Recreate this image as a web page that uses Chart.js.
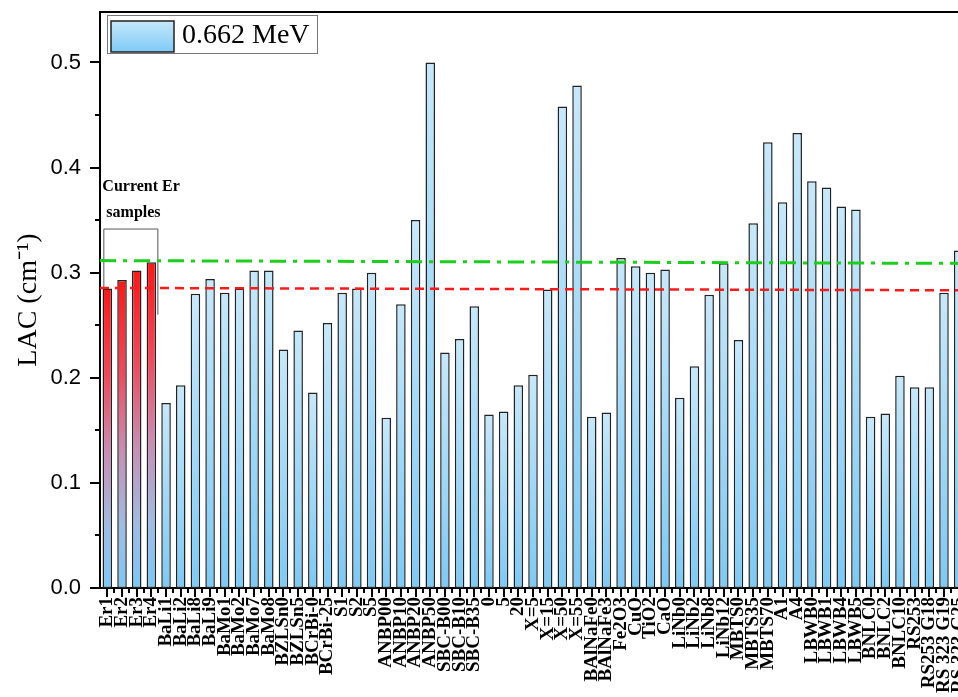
<!DOCTYPE html>
<html>
<head>
<meta charset="utf-8">
<title>LAC at 0.662 MeV</title>
<script src="https://cdn.jsdelivr.net/npm/chart.js@4.4.0/dist/chart.umd.min.js"></script>
<style>
  html, body { margin: 0; padding: 0; background: #fff; overflow: hidden; }
  #wrap { width: 966px; height: 697px; }
</style>
</head>
<body>
<div id="wrap"><canvas id="lacChart" width="966" height="697"></canvas></div>
<script>
// sample names, in plotting order
const labels = [
  'Er1', 'Er2', 'Er3', 'Er4',
  'BaLi1', 'BaLi2', 'BaLi8', 'BaLi9',
  'BaMo1', 'BaMo2', 'BaMo7', 'BaMo8',
  'BZLSn0', 'BZLSn5', 'BCrBi-0', 'BCrBi-25',
  'S1', 'S2', 'S5',
  'ANBP00', 'ANBP10', 'ANBP20', 'ANBP50',
  'SBC-B00', 'SBC-B10', 'SBC-B35',
  '0', '5', '20',
  'X=5', 'X=15', 'X=50', 'X=55',
  'BAlNaFe0', 'BAlNaFe3',
  'Fe2O3', 'CuO', 'TiO2', 'CaO',
  'LiNb0', 'LiNb2', 'LiNb8', 'LiNb12',
  'MBTS0', 'MBTS35', 'MBTS70',
  'A1', 'A4',
  'LBWB0', 'LBWB1', 'LBWB4', 'LBWB5',
  'BNLC0', 'BNLC2', 'BNLC10',
  'RS253', 'RS253 G18', 'RS 323 G19', 'RS 323 G25'
];

// linear attenuation coefficient at 0.662 MeV (cm^-1)
const lac = [
  0.285, 0.293, 0.302, 0.310,
  0.176, 0.193, 0.280, 0.294,
  0.281, 0.285, 0.302, 0.302,
  0.227, 0.245, 0.186, 0.252,
  0.281, 0.285, 0.300,
  0.162, 0.270, 0.350, 0.500,
  0.224, 0.237, 0.268,
  0.165, 0.168, 0.193,
  0.203, 0.284, 0.458, 0.478,
  0.163, 0.167,
  0.314, 0.306, 0.300, 0.303,
  0.181, 0.211, 0.279, 0.309,
  0.236, 0.347, 0.424,
  0.367, 0.433,
  0.387, 0.381, 0.363, 0.360,
  0.163, 0.166, 0.202,
  0.191, 0.191, 0.281, 0.321
];

// first bars are the current Er samples
const erCount = 4;

// reference levels, value at left edge and at right edge
const greenLine = [0.3115, 0.3088];
const redLine = [0.2855, 0.2832];

const seriesLabel = '0.662 MeV';

function barFill(ctx) {
  const chart = ctx.chart;
  const i = ctx.dataIndex;
  const isEr = i < erCount;
  if (!chart.chartArea || ctx.type !== 'data') return isEr ? '#e8405a' : '#a6dbf8';
  const y = chart.scales.y;
  const top = y.getPixelForValue(lac[i]);
  const base = y.getPixelForValue(0);
  const g = chart.ctx.createLinearGradient(0, top, 0, base);
  if (isEr) {
    g.addColorStop(0, '#ff1616');
    g.addColorStop(0.3, '#ef4a5c');
    g.addColorStop(0.55, '#c98db4');
    g.addColorStop(0.8, '#9dbde6');
    g.addColorStop(1, '#7cc8f6');
  } else {
    g.addColorStop(0, '#c6e8fb');
    g.addColorStop(1, '#7ccaf6');
  }
  return g;
}

// keep the plot box fixed: no extra room for overhanging labels
function noPadding(scale) {
  scale.paddingTop = 0;
  scale.paddingBottom = 0;
  scale.paddingLeft = 0;
  scale.paddingRight = 0;
}

// ticks on both axes plus the top frame line
const axisTicks = {
  id: 'axisTicks',
  afterDraw(chart) {
    const { ctx, chartArea: a, scales: { x, y } } = chart;
    ctx.save();
    ctx.strokeStyle = '#000';
    ctx.lineWidth = 2;
    ctx.beginPath();
    for (let k = 0; k <= 10; k++) {
      const py = Math.round(y.getPixelForValue(k * 0.05));
      ctx.moveTo(a.left - (k % 2 === 0 ? 10 : 5), py);
      ctx.lineTo(a.left, py);
    }
    const step = x.getPixelForValue(1) - x.getPixelForValue(0);
    labels.forEach((_, i) => {
      const px = Math.round(x.getPixelForValue(i));
      ctx.moveTo(px, a.bottom);
      ctx.lineTo(px, a.bottom + 9);
      const bx = Math.round(px + step / 2);
      ctx.moveTo(bx, a.bottom);
      ctx.lineTo(bx, a.bottom + 5);
    });
    ctx.moveTo(a.left, a.top);
    ctx.lineTo(a.right, a.top);
    ctx.stroke();
    ctx.restore();
  }
};

// dashed reference levels over the bars
const refLines = {
  id: 'refLines',
  afterDatasetsDraw(chart) {
    const { ctx, chartArea: a, scales: { y } } = chart;
    const draw = (vals, color, width, dash) => {
      ctx.save();
      ctx.strokeStyle = color;
      ctx.lineWidth = width;
      ctx.setLineDash(dash);
      ctx.beginPath();
      ctx.moveTo(a.left, y.getPixelForValue(vals[0]));
      ctx.lineTo(a.right, y.getPixelForValue(vals[1]));
      ctx.stroke();
      ctx.restore();
    };
    draw(greenLine, '#1ccf1c', 3, [16, 7, 4, 7]);
    draw(redLine, '#ff1a1a', 2.5, [9, 6]);
  }
};

// box and caption around the Er samples
const erBox = {
  id: 'erBox',
  beforeDatasetsDraw(chart) {
    const { ctx, scales: { x, y } } = chart;
    const left = x.getPixelForValue(0) - 4;
    const right = x.getPixelForValue(erCount - 1) + 6;
    const top = y.getPixelForValue(0.342);
    const bottom = y.getPixelForValue(0.26);
    ctx.save();
    ctx.strokeStyle = '#555';
    ctx.lineWidth = 1;
    ctx.beginPath();
    ctx.moveTo(left + 0.5, bottom);
    ctx.lineTo(left + 0.5, top + 0.5);
    ctx.lineTo(right + 0.5, top + 0.5);
    ctx.lineTo(right + 0.5, bottom);
    ctx.stroke();
    ctx.fillStyle = '#000';
    ctx.font = 'bold 16px "Liberation Serif", serif';
    ctx.textBaseline = 'alphabetic';
    ctx.fillText('Current Er', left - 1, top - 38);
    ctx.fillText('samples', left + 3, top - 12);
    ctx.restore();
  }
};

// boxed legend in the top-left corner of the plot
const boxLegend = {
  id: 'boxLegend',
  afterDraw(chart) {
    const { ctx, chartArea: a } = chart;
    const bx = a.left + 7, by = a.top + 3;
    ctx.save();
    ctx.fillStyle = '#fff';
    ctx.fillRect(bx, by, 210, 38);
    ctx.strokeStyle = '#777';
    ctx.lineWidth = 1;
    ctx.strokeRect(bx + 0.5, by + 0.5, 210, 38);
    const g = ctx.createLinearGradient(0, by + 6, 0, by + 37);
    g.addColorStop(0, '#c6e8fb');
    g.addColorStop(1, '#7ccaf6');
    ctx.fillStyle = g;
    ctx.fillRect(bx + 4, by + 6, 63, 31);
    ctx.strokeStyle = '#222';
    ctx.lineWidth = 1.5;
    ctx.strokeRect(bx + 4, by + 6, 63, 31);
    ctx.fillStyle = '#000';
    ctx.font = '28px "Liberation Serif", serif';
    ctx.textBaseline = 'middle';
    ctx.fillText(seriesLabel, bx + 75, by + 21);
    ctx.restore();
  }
};

new Chart(document.getElementById('lacChart'), {
  type: 'bar',
  data: {
    labels: labels,
    datasets: [{
      label: seriesLabel,
      data: lac,
      backgroundColor: barFill,
      borderColor: '#222',
      borderWidth: 1.5,
      borderSkipped: false,
      barPercentage: 0.65,
      categoryPercentage: 1.0
    }]
  },
  options: {
    responsive: false,
    animation: false,
    layout: { padding: { top: 12, right: 0, left: 0, bottom: 0 } },
    plugins: {
      legend: { display: false },
      tooltip: { enabled: false }
    },
    scales: {
      x: {
        offset: true,
        grid: { display: false, drawTicks: false },
        border: { display: true, color: '#000', width: 2 },
        ticks: {
          autoSkip: false,
          minRotation: 90,
          maxRotation: 90,
          padding: 9,
          color: '#000',
          font: { family: '"Liberation Serif", serif', weight: 'bold', size: 19 }
        },
        afterFit(scale) {
          scale.height = 109;
          noPadding(scale);
        }
      },
      y: {
        min: 0,
        max: 0.548,
        grid: { display: false, drawTicks: false },
        border: { display: true, color: '#000', width: 2 },
        ticks: {
          stepSize: 0.1,
          includeBounds: false,
          padding: 19,
          color: '#000',
          font: { family: '"Liberation Sans", Arial, sans-serif', size: 22 },
          callback: v => v.toFixed(1)
        },
        title: {
          display: true,
          text: 'LAC (cm⁻¹)',
          color: '#000',
          padding: { top: 12, bottom: 0 },
          font: { family: '"Liberation Serif", serif', size: 28 }
        },
        afterFit(scale) {
          scale.width = 100;
          noPadding(scale);
        }
      }
    }
  },
  plugins: [erBox, refLines, axisTicks, boxLegend]
});
</script>
</body>
</html>
